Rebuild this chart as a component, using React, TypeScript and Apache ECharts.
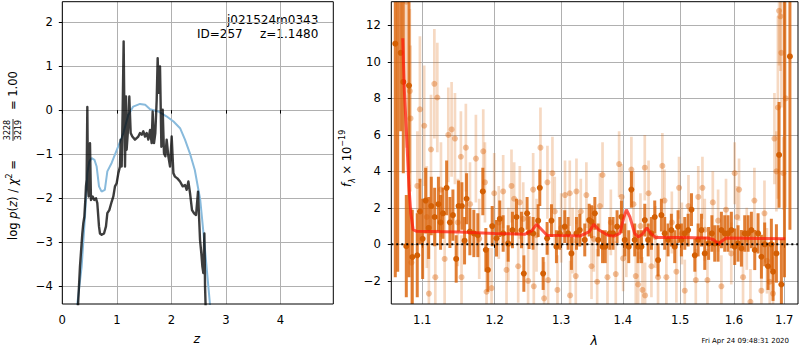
import React, { useEffect, useRef } from "react";
import * as echarts from "echarts";

// ---------- axes ----------
const zTicks = [0, 1, 2, 3, 4];
const logpTicks = [-4, -3, -2, -1, 0, 1, 2];
const lamTicks = [1.1, 1.2, 1.3, 1.4, 1.5, 1.6, 1.7];
const fluxTicks = [-2, 0, 2, 4, 6, 8, 10, 12];
const zRange = [0, 4.97];
const logpRange = [-4.4, 2.46];
const lamRange = [1.0598, 1.7283];
const fluxRange = [-3.27, 13.3];

// ---------- left panel: p(z) ----------
const priorZ = [0.26, 0.275, 0.355, 0.416, 0.459, 0.495, 0.538, 0.59, 0.63, 0.673, 0.72, 0.78, 0.826, 0.905, 1.0, 1.12, 1.21, 1.3, 1.425, 1.52, 1.61, 1.76, 1.91, 2.04, 2.16, 2.25, 2.34, 2.43, 2.53, 2.59, 2.64, 2.69, 2.73];
const priorLogP = [-4.7, -4.4, -3.55, -2.42, -1.43, -1.17, -1.09, -1.13, -1.28, -1.73, -1.85, -1.81, -1.39, -1.2, -0.9, -0.52, -0.11, 0.08, 0.14, 0.12, 0.02, -0.03, -0.14, -0.26, -0.41, -0.67, -0.98, -1.36, -2.04, -2.8, -3.48, -4.16, -4.7];

const pzZ = [0.275, 0.324, 0.367, 0.385, 0.404, 0.422, 0.434, 0.446, 0.459, 0.471, 0.483, 0.508, 0.526, 0.557, 0.587, 0.618, 0.642, 0.673, 0.691, 0.722, 0.765, 0.801, 0.826, 0.862, 0.905, 0.936, 0.966, 0.997, 1.028, 1.058, 1.07, 1.089, 1.107, 1.125, 1.138, 1.15, 1.168, 1.18, 1.205, 1.229, 1.254, 1.284, 1.333, 1.394, 1.425, 1.456, 1.486, 1.517, 1.547, 1.578, 1.609, 1.639, 1.657, 1.682, 1.706, 1.731, 1.749, 1.768, 1.792, 1.817, 1.841, 1.865, 1.89, 1.914, 1.945, 1.976, 2.006, 2.037, 2.067, 2.11, 2.159, 2.208, 2.251, 2.281, 2.312, 2.343, 2.379, 2.416, 2.453, 2.489, 2.508, 2.526, 2.55, 2.569, 2.587, 2.606, 2.618, 2.636];
const pzLogP = [-4.77, -3.55, -2.8, -2.57, -2.42, -2.04, -1.73, -1.58, 0.07, -1.73, -1.96, -0.75, -2.04, -1.96, -2.04, -2.0, -2.11, -2.64, -2.8, -2.83, -2.8, -2.64, -2.34, -2.27, -2.08, -1.96, -1.73, -1.66, -1.43, -1.28, -0.67, -1.28, 0.01, 1.56, 0.01, -1.28, 0.31, -0.9, -0.45, 0.31, -0.52, -0.6, -0.67, -0.6, -0.52, -0.56, -0.48, -0.6, -0.52, -0.67, -0.45, -0.75, -0.03, -0.75, -0.52, 0.23, 1.18, 0.39, 0.99, -0.83, 0.01, -0.98, -1.05, -0.67, -1.05, -1.28, -0.6, -1.43, -1.51, -1.55, -1.62, -1.73, -1.7, -1.81, -1.62, -1.89, -2.27, -2.34, -2.38, -1.85, -2.42, -2.95, -3.25, -3.55, -3.7, -2.8, -4.01, -4.77];

// ---------- right panel: spectrum [lambda, flux, err] ----------
const darkSpec: number[][] = [
  [1.0649, 11.0, 12.8], [1.068, 14.0, 15.5], [1.0718, 10.5, 4.3], [1.0752, 8.9, 5.0], [1.0791, -0.1, 2.8],
  [1.0826, 8.7, 10.5], [1.0869, -0.7, 2.6], [1.0934, -0.6, 2.3], [1.097, 1.8, 1.8], [1.1005, 0.3, 2.2],
  [1.1045, 2.4, 1.8], [1.1085, 0.9, 1.7], [1.112, 2.1, 1.6], [1.1165, 1.5, 1.6], [1.1216, 2.2, 1.5],
  [1.1245, 1.2, 1.5], [1.1277, 1.7, 1.4], [1.1327, 3.1, 1.5], [1.1372, 1.2, 1.4], [1.1413, 1.6, 1.4],
  [1.1458, -0.8, 1.3], [1.1491, 2.1, 1.4], [1.1537, 2.1, 1.3], [1.1574, 0.2, 1.3], [1.1602, 2.5, 1.4],
  [1.1648, 0.7, 1.3], [1.1704, 0.6, 1.3], [1.176, 0.5, 1.2], [1.1831, 2.9, 1.3], [1.1874, -0.3, 1.2],
  [1.1903, -1.4, 1.2], [1.1965, 1.0, 1.1], [1.2027, 0.33, 1.0], [1.2075, 1.4, 1.0], [1.2124, 0.6, 1.0],
  [1.2197, 0.05, 1.0], [1.226, 0.78, 1.0], [1.232, 1.5, 1.0], [1.2394, 0.78, 1.0], [1.2429, -1.6, 1.0],
  [1.2478, 1.7, 0.9], [1.2508, 0.64, 0.9], [1.2569, 0.6, 0.9], [1.2645, 1.3, 0.9], [1.267, 3.1, 1.0],
  [1.2721, -1.6, 0.9], [1.2782, 0.33, 0.9], [1.2849, 1.3, 0.9], [1.2926, -0.13, 0.9], [1.2978, 0.6, 0.9],
  [1.3056, 0.97, 0.9], [1.3109, 0.6, 0.9], [1.3161, -0.5, 0.9], [1.3241, 0.6, 0.9], [1.3294, 0.78, 0.9],
  [1.3374, 0.24, 0.9], [1.3445, 1.33, 0.9], [1.3483, 1.24, 0.9], [1.3537, 1.7, 0.9], [1.3592, 0.24, 0.9],
  [1.3663, -0.13, 0.9], [1.3707, -0.13, 0.9], [1.3782, 0.6, 0.9], [1.3837, 0.6, 0.9], [1.3904, 0.97, 0.9],
  [1.3977, 1.51, 0.9], [1.4033, 0.24, 0.9], [1.41, -0.13, 0.9], [1.4145, 3.0, 1.0], [1.4202, 0.24, 0.9],
  [1.426, -0.13, 0.9], [1.4317, -0.13, 0.9], [1.4375, 1.33, 0.9], [1.4433, 0.24, 0.9], [1.449, 0.6, 0.9],
  [1.4548, 1.5, 0.9], [1.4606, -0.86, 0.9], [1.4665, 1.6, 0.9], [1.4723, 0.6, 0.9], [1.4783, 0.24, 0.9],
  [1.4842, 0.78, 0.9], [1.4902, -0.13, 0.9], [1.4962, 0.97, 0.9], [1.5022, 0.24, 0.9], [1.5083, 0.6, 0.9],
  [1.5144, 0.78, 0.9], [1.5205, 1.9, 0.9], [1.5266, -0.6, 0.9], [1.5327, 0.24, 0.9], [1.5389, 0.78, 0.9],
  [1.545, -0.5, 0.9], [1.5521, 0.05, 0.9], [1.5583, 0.6, 1.0], [1.5636, 0.05, 1.0], [1.5699, 0.05, 1.0],
  [1.5762, 0.78, 1.0], [1.5825, 0.6, 1.0], [1.5888, 0.6, 1.0], [1.5952, 0.78, 1.0], [1.6016, -0.13, 1.0],
  [1.6081, 0.05, 1.0], [1.6146, -0.22, 1.0], [1.621, 0.6, 1.0], [1.6276, 0.6, 1.0], [1.6341, 0.78, 1.0],
  [1.6407, -0.31, 1.1], [1.6473, 0.6, 1.1], [1.6539, -0.68, 1.2], [1.6604, 0.0, 1.2], [1.6671, -1.2, 1.3],
  [1.6738, 0.0, 1.4], [1.6772, -1.5, 1.6], [1.684, -0.5, 1.6], [1.6894, 4.9, 2.9], [1.6941, -2.2, 2.5],
  [1.7004, 13.6, 15.4], [1.7116, 10.3, 9.5],
];

const lightSpec: number[][] = [
  [1.079, 13.3, 8.0], [1.0837, 8.4, 4.5], [1.0846, 6.9, 4.0], [1.0858, -1.0, 3.0], [1.0935, 3.2, 3.0],
  [1.0969, 7.4, 4.0], [1.1026, 6.5, 3.3], [1.106, 1.5, 2.8], [1.1088, -2.7, 2.6], [1.1116, 5.2, 3.0],
  [1.1161, 8.8, 3.0], [1.1174, -1.8, 2.6], [1.1201, 8.05, 3.0], [1.125, 3.0, 2.6], [1.13, -0.8, 2.5],
  [1.135, 6.0, 2.6], [1.1395, 6.3, 2.6], [1.1441, 5.8, 2.5], [1.148, 1.2, 2.4], [1.1523, 4.8, 2.5],
  [1.1532, -1.8, 2.3], [1.1592, 5.3, 2.4], [1.165, 2.2, 2.3], [1.1733, 4.7, 2.4], [1.178, 0.3, 2.2],
  [1.1837, 5.1, 2.3], [1.1861, 3.4, 2.2], [1.1884, -2.6, 2.2], [1.1956, -2.4, 2.2], [1.1994, 2.8, 2.2],
  [1.206, 1.2, 2.0], [1.2124, 2.9, 2.0], [1.2173, -1.4, 2.0], [1.22, 0.0, 2.0], [1.2246, 3.2, 2.0],
  [1.2285, 2.5, 2.0], [1.2345, -1.2, 2.0], [1.2369, 2.3, 2.0], [1.242, 1.4, 2.0], [1.2493, -2.0, 2.0],
  [1.2569, 3.0, 2.0], [1.2579, -2.3, 2.0], [1.262, 0.5, 2.0], [1.268, 5.3, 2.2], [1.2736, -2.96, 2.0],
  [1.2787, 3.4, 2.0], [1.2797, -1.96, 2.0], [1.2864, 3.9, 2.0], [1.29, 1.8, 1.9], [1.2942, -2.5, 1.9],
  [1.3, 0.9, 1.9], [1.306, 2.7, 1.9], [1.3135, 2.8, 1.8], [1.314, -2.8, 1.9], [1.318, 0.2, 1.8],
  [1.323, -1.74, 1.9], [1.3241, 2.9, 1.8], [1.331, 1.8, 1.8], [1.34, 2.7, 1.8], [1.3483, -1.2, 1.8],
  [1.352, 0.3, 1.8], [1.3575, -2.05, 1.8], [1.362, 2.1, 1.8], [1.3663, 3.8, 1.8], [1.3744, -1.8, 1.8],
  [1.38, 1.2, 1.8], [1.3882, -1.63, 1.8], [1.3938, 4.4, 1.8], [1.398, 2.6, 1.8], [1.4005, -0.77, 1.8],
  [1.406, 0.0, 1.8], [1.4145, 4.1, 1.8], [1.418, 2.2, 1.8], [1.422, -1.74, 1.8], [1.426, -2.2, 1.8],
  [1.43, 1.0, 1.8], [1.4335, -2.5, 1.8], [1.4375, 4.2, 1.8], [1.438, -2.8, 1.8], [1.444, 2.8, 1.8],
  [1.449, -1.2, 1.7], [1.456, 0.4, 1.7], [1.4606, -1.8, 1.7], [1.4682, 4.3, 1.8], [1.472, 2.4, 1.7],
  [1.4753, -1.8, 1.7], [1.485, 1.2, 1.7], [1.4932, -1.5, 1.7], [1.498, 3.1, 1.7], [1.503, 0.6, 1.7],
  [1.5083, -2.54, 1.7], [1.515, 2.1, 1.7], [1.5284, -1.96, 1.7], [1.533, 2.6, 1.7], [1.5407, 3.1, 1.7],
  [1.545, 0.8, 1.7], [1.55, -1.96, 1.7], [1.56, 2.3, 1.7], [1.57, 1.3, 1.7], [1.5762, -2.3, 1.7],
  [1.585, 1.9, 1.7], [1.595, -0.5, 1.7], [1.6016, 3.9, 1.7], [1.606, 1.5, 1.7], [1.61, 3.0, 1.7],
  [1.6178, -1.8, 1.7], [1.625, 0.3, 1.7], [1.6322, -3.15, 1.8], [1.64, 2.4, 1.8], [1.6539, -2.54, 1.8],
  [1.66, 1.7, 1.8], [1.665, -0.9, 1.8], [1.6705, -2.05, 1.9], [1.6772, -2.7, 2.0], [1.68, 5.8, 2.5],
  [1.684, 4.0, 2.2], [1.687, 7.5, 5.0], [1.6894, 12.8, 3.0], [1.692, 12.5, 3.0], [1.6941, 10.5, 3.0],
  [1.698, 3.9, 2.0], [1.703, 8.0, 6.0],
];

const modelLam = [1.0745, 1.0765, 1.079, 1.0825, 1.085, 1.088, 1.092, 1.15, 1.2, 1.245, 1.255, 1.262, 1.27, 1.278, 1.3, 1.33, 1.345, 1.352, 1.36, 1.375, 1.385, 1.395, 1.402, 1.406, 1.412, 1.42, 1.426, 1.433, 1.441, 1.448, 1.456, 1.5, 1.55, 1.562, 1.57, 1.578, 1.585, 1.65, 1.702];
const modelFlux = [11.3, 8.5, 6.4, 3.2, 1.7, 0.8, 0.72, 0.68, 0.6, 0.56, 0.75, 1.1, 0.8, 0.5, 0.48, 0.46, 0.7, 1.1, 0.8, 0.5, 0.45, 0.6, 1.5, 1.9, 1.5, 0.6, 0.4, 0.55, 0.9, 0.6, 0.38, 0.37, 0.35, 0.25, 0.02, 0.2, 0.35, 0.32, 0.3];
const zeroLevel = 0;

const FONT = "DejaVu Sans";
const TICK_FS = 11.6;
const minus = (v: number | string) => String(v).replace("-", "\u2212");

const errRender = (bar: string, dot: string, w: number, r: number) => (params: any, api: any) => {
  const x = api.value(0);
  const y = api.value(1);
  const e = api.value(2);
  const lo = api.coord([x, y - e]);
  const hi = api.coord([x, y + e]);
  const c = api.coord([x, y]);
  return {
    type: "group",
    children: [
      { type: "line", shape: { x1: lo[0], y1: lo[1], x2: hi[0], y2: hi[1] }, style: { stroke: bar, lineWidth: w } },
      { type: "circle", shape: { cx: c[0], cy: c[1], r }, style: { fill: dot } },
    ],
  };
};

const axisCommon = (ticks: number[], fmt: (v: number) => string, margin: number) => ({
  type: "value",
  axisLine: { show: false },
  axisTick: { show: true, length: 3.5, inside: false, lineStyle: { color: "#000", width: 1 }, customValues: ticks },
  axisLabel: { customValues: ticks, formatter: fmt, margin, color: "#000", fontFamily: FONT, fontSize: TICK_FS },
  splitLine: { show: true, lineStyle: { color: "#b0b0b0", width: 1 } },
  minorTick: { show: false },
});

const txt = (x: number, y: number, text: string, align: string, size: number, extra: any = {}) => ({
  type: "text", x, y,
  style: { text, align, verticalAlign: "middle", textAlign: align, textVerticalAlign: "middle", fontSize: size, fontFamily: FONT, fill: "#000", ...extra },
});

export default function App() {
  const ref = useRef<HTMLDivElement>(null);
  useEffect(() => {
    if (!ref.current) return;
    const chart = echarts.init(ref.current, undefined, { renderer: "svg" });
    const ln = Math.log;
    const option: any = {
      animation: false,
      backgroundColor: "#fff",
      grid: [
        { left: 62.3, top: 1.7, width: 271, height: 302.3, show: true, borderColor: "#000", borderWidth: 1, backgroundColor: "transparent", z: 5 },
        { left: 391.3, top: 1.7, width: 406.7, height: 302.3, show: true, borderColor: "#000", borderWidth: 1, backgroundColor: "transparent", z: 5 },
      ],
      xAxis: [
        { ...axisCommon(zTicks, (v) => String(v), 10), gridIndex: 0, min: zRange[0], max: zRange[1] },
        {
          ...axisCommon(lamTicks.map(ln), (v) => Math.exp(v).toFixed(1), 10),
          gridIndex: 1, min: ln(lamRange[0]), max: ln(lamRange[1]),
        },
      ],
      yAxis: [
        { ...axisCommon(logpTicks, (v) => minus(v), 9.5), gridIndex: 0, min: logpRange[0], max: logpRange[1] },
        { ...axisCommon(fluxTicks, (v) => minus(v), 10.5), gridIndex: 1, min: fluxRange[0], max: fluxRange[1] },
      ],
      series: [
        {
          type: "line", xAxisIndex: 0, yAxisIndex: 0, symbol: "none", clip: true,
          data: priorZ.map((z, i) => [z, priorLogP[i]]),
          lineStyle: { color: "#88badc", width: 2 }, z: 2,
        },
        {
          type: "line", xAxisIndex: 0, yAxisIndex: 0, symbol: "none", clip: true,
          data: pzZ.map((z, i) => [z, pzLogP[i]]),
          lineStyle: { color: "rgba(0,0,0,0.76)", width: 2.4, join: "round" }, z: 3,
        },
        {
          type: "custom", xAxisIndex: 1, yAxisIndex: 1, clip: true,
          data: lightSpec.map((d) => [ln(d[0]), d[1], d[2]]),
          encode: { x: 0, y: 1 },
          renderItem: errRender("rgba(217,95,2,0.24)", "rgba(217,95,2,0.38)", 2.7, 3),
          z: 2,
        },
        {
          type: "custom", xAxisIndex: 1, yAxisIndex: 1, clip: true,
          data: darkSpec.map((d) => [ln(d[0]), d[1], d[2]]),
          encode: { x: 0, y: 1 },
          renderItem: errRender("rgba(217,95,2,0.8)", "#d35f04", 3, 3),
          z: 3,
        },
        {
          type: "line", xAxisIndex: 1, yAxisIndex: 1, symbol: "none", clip: true,
          data: modelLam.map((l, i) => [ln(l), modelFlux[i]]),
          lineStyle: { color: "rgba(255,25,10,0.72)", width: 3 }, z: 4,
        },
        {
          type: "line", xAxisIndex: 1, yAxisIndex: 1, symbol: "none", clip: true,
          data: [[ln(lamRange[0]), zeroLevel], [ln(lamRange[1]), zeroLevel]],
          lineStyle: { color: "#000", width: 2, type: [2, 3] }, z: 5,
        },
      ],
      graphic: [
        txt(318.3, 20, "j021524m0343", "right", 12),
        txt(318.3, 34, "z=1.1480", "right", 12),
        txt(242.7, 34, "ID=257", "right", 12),
        txt(196.7, 338.7, "z", "center", 12.5, { fontStyle: "italic" }),
        txt(594.2, 340, "λ", "center", 12.5, { fontStyle: "italic" }),
        txt(789, 340.7, "Fri Apr 24 09:48:31 2020", "right", 7),
        {
          type: "group", x: 13, y: 240, rotation: Math.PI / 2,
          children: [
            {
              type: "text", x: 0, y: 0,
              style: {
                text: "{a|log }{i|p}{a|(}{i|z}{a|) / }{i|χ}{s|2}{a| =}",
                align: "left", verticalAlign: "middle", textAlign: "left", textVerticalAlign: "middle",
                rich: {
                  a: { fontSize: 11.5, fontFamily: FONT, lineHeight: 16, fill: "#000" },
                  i: { fontSize: 11.5, fontFamily: FONT, fontStyle: "italic", lineHeight: 16, fill: "#000" },
                  s: { fontSize: 8, fontFamily: FONT, lineHeight: 9, verticalAlign: "top", fill: "#000" },
                },
              },
            },
            txt(110, -5.5, "3228", "center", 8),
            { type: "line", shape: { x1: 99, y1: 0, x2: 121, y2: 0 }, style: { stroke: "#000", lineWidth: 0.8 } },
            txt(110, 5.5, "3219", "center", 8),
            txt(130, 0, "= 1.00", "left", 11.5),
          ],
        },
        {
          type: "group", x: 347, y: 187, rotation: Math.PI / 2,
          children: [
            {
              type: "text", x: 0, y: 0,
              style: {
                text: "{i|f}{b|λ}{a| × 10}{s|−19}",
                align: "left", verticalAlign: "middle", textAlign: "left", textVerticalAlign: "middle",
                rich: {
                  a: { fontSize: 11.5, fontFamily: FONT, lineHeight: 18, fill: "#000" },
                  i: { fontSize: 11.5, fontFamily: FONT, fontStyle: "italic", lineHeight: 18, fill: "#000" },
                  s: { fontSize: 8, fontFamily: FONT, lineHeight: 10, verticalAlign: "top", fill: "#000" },
                  b: { fontSize: 8, fontFamily: FONT, fontStyle: "italic", lineHeight: 10, verticalAlign: "bottom", fill: "#000" },
                },
              },
            },
          ],
        },
      ],
    };
    chart.setOption(option);
    return () => chart.dispose();
  }, []);
  return <div ref={ref} style={{ position: "fixed", left: 0, top: 0, width: 800, height: 350, background: "#fff" }} />;
}
